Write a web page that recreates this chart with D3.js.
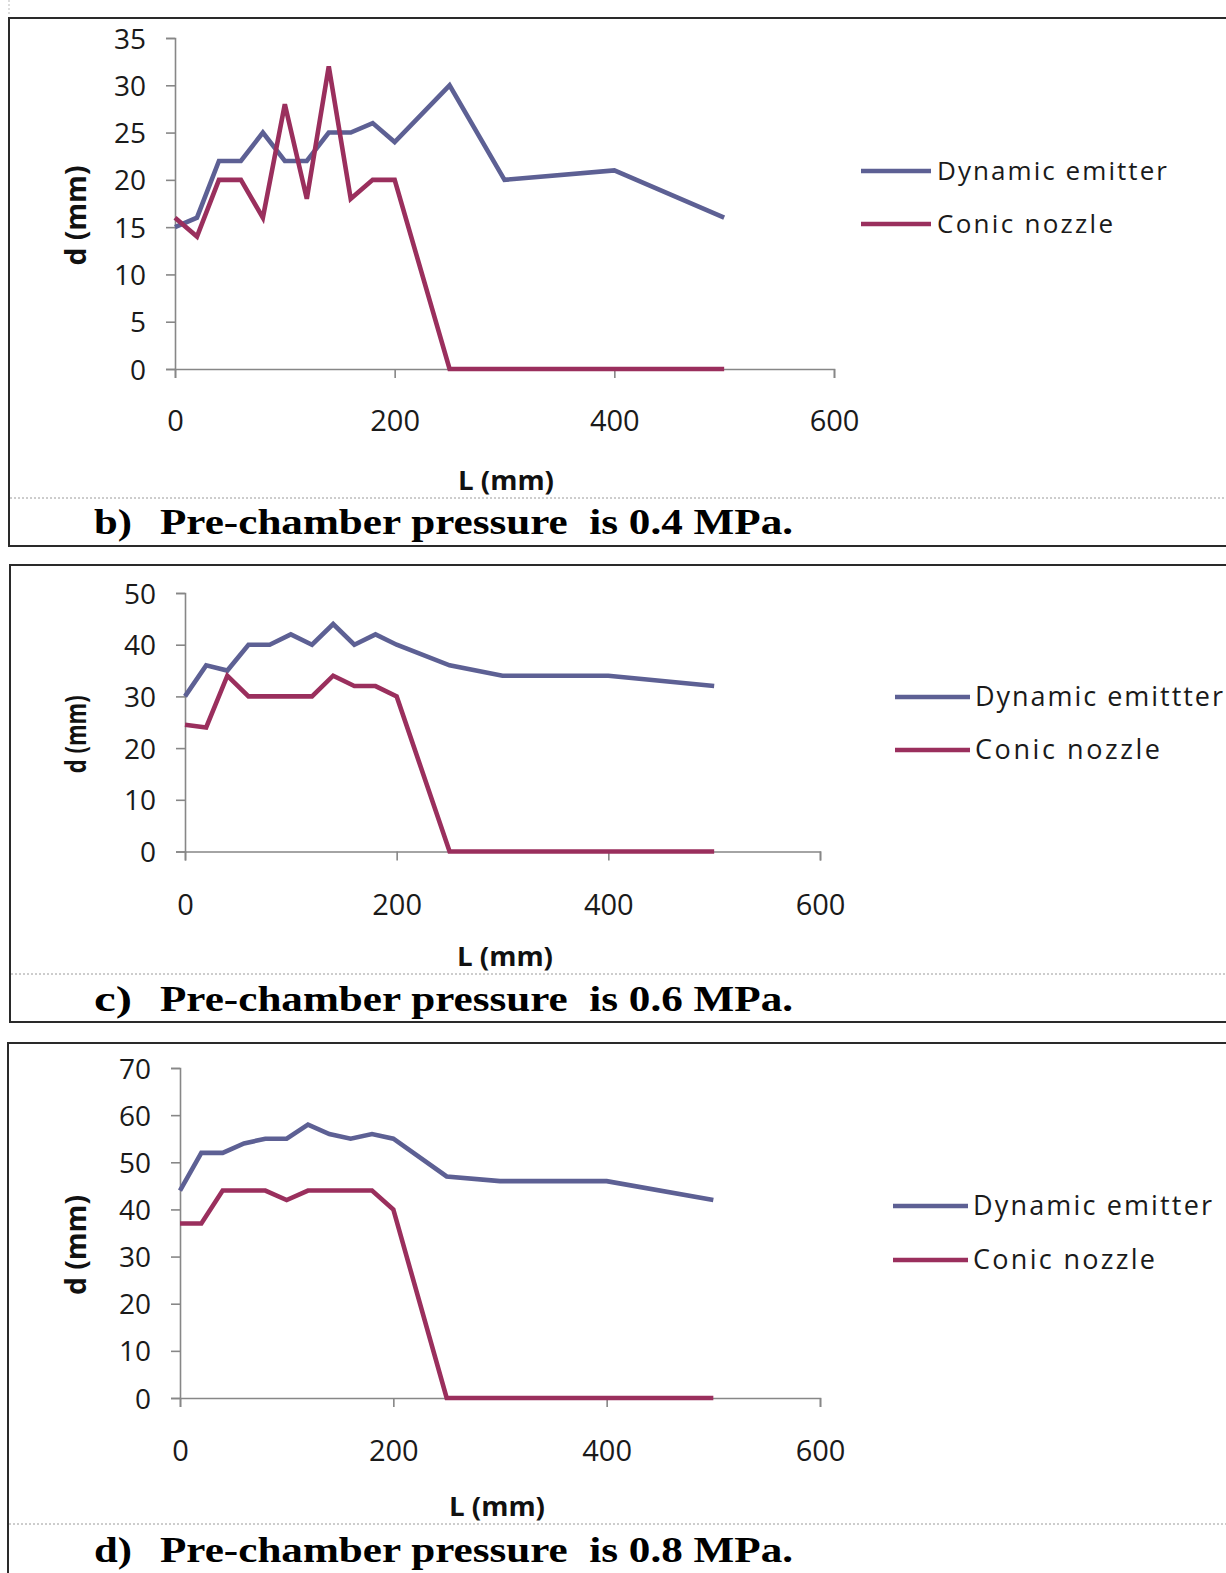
<!DOCTYPE html>
<html>
<head>
<meta charset="utf-8">
<script src="https://cdn.jsdelivr.net/npm/d3@7"></script>
<style>
  html, body { margin: 0; padding: 0; background: #fff; }
  svg { display: block; }
</style>
</head>
<body>
<script>
// ---------- data ----------
const L = [0, 20, 40, 60, 80, 100, 120, 140, 160, 180, 200, 250, 300, 400, 500];

const dynamicB = [15, 16, 22, 22, 25, 22, 22, 25, 25, 26, 24, 30, 20, 21, 16];
const conicB   = [16, 14, 20, 20, 16, 28, 18, 32, 18, 20, 20, 0, 0, 0, 0];

const dynamicC = [30, 36, 35, 40, 40, 42, 40, 44, 40, 42, 40, 36, 34, 34, 32];
const conicC   = [24.5, 24, 34, 30, 30, 30, 30, 34, 32, 32, 30, 0, 0, 0, 0];

const dynamicD = [44, 52, 52, 54, 55, 55, 58, 56, 55, 56, 55, 47, 46, 46, 42];
const conicD   = [37, 37, 44, 44, 44, 42, 44, 44, 44, 44, 40, 0, 0, 0, 0];

const xTicks = [0, 200, 400, 600];
const yTicksB = [0, 5, 10, 15, 20, 25, 30, 35];
const yTicksC = [0, 10, 20, 30, 40, 50];
const yTicksD = [0, 10, 20, 30, 40, 50, 60, 70];

const legendB = ["Dynamic emitter", "Conic nozzle"];
const legendC = ["Dynamic emittter", "Conic nozzle"];
const legendD = ["Dynamic emitter", "Conic nozzle"];

const titleLetters = ["b)", "c)", "d)"];
const titleTexts = ["Pre-chamber pressure  is 0.4 MPa.", "Pre-chamber pressure  is 0.6 MPa.", "Pre-chamber pressure  is 0.8 MPa."];

const xLabel = "L (mm)";
const yLabel = "d (mm)";

// ---------- layout ----------
const W = 1226, H = 1573;
const colorDyn = "#5d6094";
const colorCon = "#9a2f5d";
const axisColor = "#878787";
const fontSans = "'Open Sans', 'DejaVu Sans', sans-serif";
const fontSerif = "'Liberation Serif', 'DejaVu Serif', serif";

const panels = [
  { box: [9, 18, 546], x0: 175, x1: 834, y0: 369, y1: 38, yMax: 35, yTicks: yTicksB,
    dyn: dynamicB, con: conicB, legend: legendB,
    leg: { lx0: 861, lx1: 931, tx: 937, y1: 171, y2: 224, w1: 230, w2: 176, fs: 26 },
    xlabY: 41, ylabX: 86, ylabLen: 100, xTitleY: 490, xTitleX: 506, dotY: 498, titleY: 534, titleIdx: 0 },
  { box: [10, 565, 1022], x0: 185, x1: 820, y0: 851.5, y1: 593, yMax: 50, yTicks: yTicksC,
    dyn: dynamicC, con: conicC, legend: legendC,
    leg: { lx0: 895, lx1: 970, tx: 975, y1: 697, y2: 750, w1: 248, w2: 185, fs: 27 },
    xlabY: 43, ylabX: 86, ylabLen: 78, xTitleY: 966, xTitleX: 505, dotY: 974, titleY: 1011, titleIdx: 1 },
  { box: [8, 1043, 1600], x0: 180, x1: 820, y0: 1398, y1: 1068, yMax: 70, yTicks: yTicksD,
    dyn: dynamicD, con: conicD, legend: legendD,
    leg: { lx0: 893, lx1: 968, tx: 973, y1: 1206, y2: 1260, w1: 239, w2: 182, fs: 27 },
    xlabY: 42, ylabX: 86, ylabLen: 100, xTitleY: 1516, xTitleX: 497, dotY: 1524, titleY: 1562, titleIdx: 2 }
];

const svg = d3.select("body").append("svg")
  .attr("width", W).attr("height", H)
  .attr("xmlns", "http://www.w3.org/2000/svg");

svg.append("rect").attr("width", W).attr("height", H).attr("fill", "#fff");

// faint artifact at left edge
svg.append("line").attr("x1", 9).attr("x2", 9).attr("y1", 0).attr("y2", 14)
  .attr("stroke", "#bbb").attr("stroke-dasharray", "2,2");

panels.forEach(p => {
  const [bx, by, bb] = p.box;
  // frame
  svg.append("rect")
    .attr("x", bx).attr("y", by).attr("width", W + 20 - bx).attr("height", bb - by)
    .attr("fill", "none").attr("stroke", "#2a2a2a").attr("stroke-width", 2);

  // dotted separator
  svg.append("line")
    .attr("x1", bx + 1).attr("x2", W).attr("y1", p.dotY).attr("y2", p.dotY)
    .attr("stroke", "#9a9a9a").attr("stroke-width", 1).attr("stroke-dasharray", "2,2");

  const x = d3.scaleLinear().domain([0, 600]).range([p.x0, p.x1]);
  const y = d3.scaleLinear().domain([0, p.yMax]).range([p.y0, p.y1]);

  // axes
  const gx = svg.append("g").attr("transform", `translate(0,${p.y0})`)
    .call(d3.axisBottom(x).tickValues(xTicks).tickSize(9).tickPadding(p.xlabY - 9).tickFormat(d3.format("d")));
  const gy = svg.append("g").attr("transform", `translate(${p.x0},0)`)
    .call(d3.axisLeft(y).tickValues(p.yTicks).tickSize(9).tickPadding(20).tickFormat(d3.format("d")));
  [gx, gy].forEach(g => {
    g.select(".domain").attr("stroke", axisColor).attr("stroke-width", 1.6);
    g.selectAll(".tick line").attr("stroke", axisColor).attr("stroke-width", 1.6);
    g.selectAll(".tick text").attr("fill", "#1a1a1a").attr("font-family", fontSans);
  });
  gx.selectAll(".tick text").attr("font-size", 29);
  gy.selectAll(".tick text").attr("font-size", 28).attr("dy", "0.36em");

  // series
  const line = d3.line().x((d, i) => x(L[i])).y(d => y(d));
  svg.append("path").datum(p.dyn).attr("d", line)
    .attr("fill", "none").attr("stroke", colorDyn).attr("stroke-width", 4.6)
    .attr("stroke-linejoin", "miter").attr("stroke-linecap", "butt");
  svg.append("path").datum(p.con).attr("d", line)
    .attr("fill", "none").attr("stroke", colorCon).attr("stroke-width", 4.6)
    .attr("stroke-linejoin", "miter").attr("stroke-linecap", "butt");

  // axis titles
  svg.append("text")
    .attr("transform", `translate(${p.ylabX},${(p.y0 + p.y1) / 2 + 12}) rotate(-90)`)
    .attr("text-anchor", "middle").attr("font-family", fontSans).attr("font-weight", "bold")
    .attr("font-size", 28).attr("fill", "#111")
    .attr("textLength", p.ylabLen).attr("lengthAdjust", "spacingAndGlyphs").text(yLabel);
  svg.append("text")
    .attr("x", p.xTitleX).attr("y", p.xTitleY)
    .attr("text-anchor", "middle").attr("font-family", fontSans).attr("font-weight", "bold")
    .attr("font-size", 26).attr("fill", "#111")
    .attr("textLength", 96).attr("lengthAdjust", "spacingAndGlyphs").text(xLabel);

  // legend
  const lg = p.leg;
  [[lg.y1, colorDyn, p.legend[0], lg.w1], [lg.y2, colorCon, p.legend[1], lg.w2]].forEach(([ly, c, t, w]) => {
    svg.append("line").attr("x1", lg.lx0).attr("x2", lg.lx1).attr("y1", ly).attr("y2", ly)
      .attr("stroke", c).attr("stroke-width", 4.6);
    svg.append("text").attr("x", lg.tx).attr("y", ly + 9)
      .attr("font-family", fontSans).attr("font-size", lg.fs).attr("fill", "#1a1a1a")
      .attr("textLength", w).attr("lengthAdjust", "spacing")
      .text(t);
  });

  // caption
  svg.append("text").attr("x", 94).attr("y", p.titleY)
    .attr("font-family", fontSerif).attr("font-weight", "bold").attr("font-size", 36)
    .attr("fill", "#000").attr("textLength", 38).attr("lengthAdjust", "spacingAndGlyphs")
    .text(titleLetters[p.titleIdx]);
  svg.append("text").attr("x", 160).attr("y", p.titleY)
    .attr("font-family", fontSerif).attr("font-weight", "bold").attr("font-size", 36)
    .attr("fill", "#000").attr("textLength", 633).attr("lengthAdjust", "spacingAndGlyphs")
    .style("white-space", "pre")
    .text(titleTexts[p.titleIdx]);
});
</script>
</body>
</html>
